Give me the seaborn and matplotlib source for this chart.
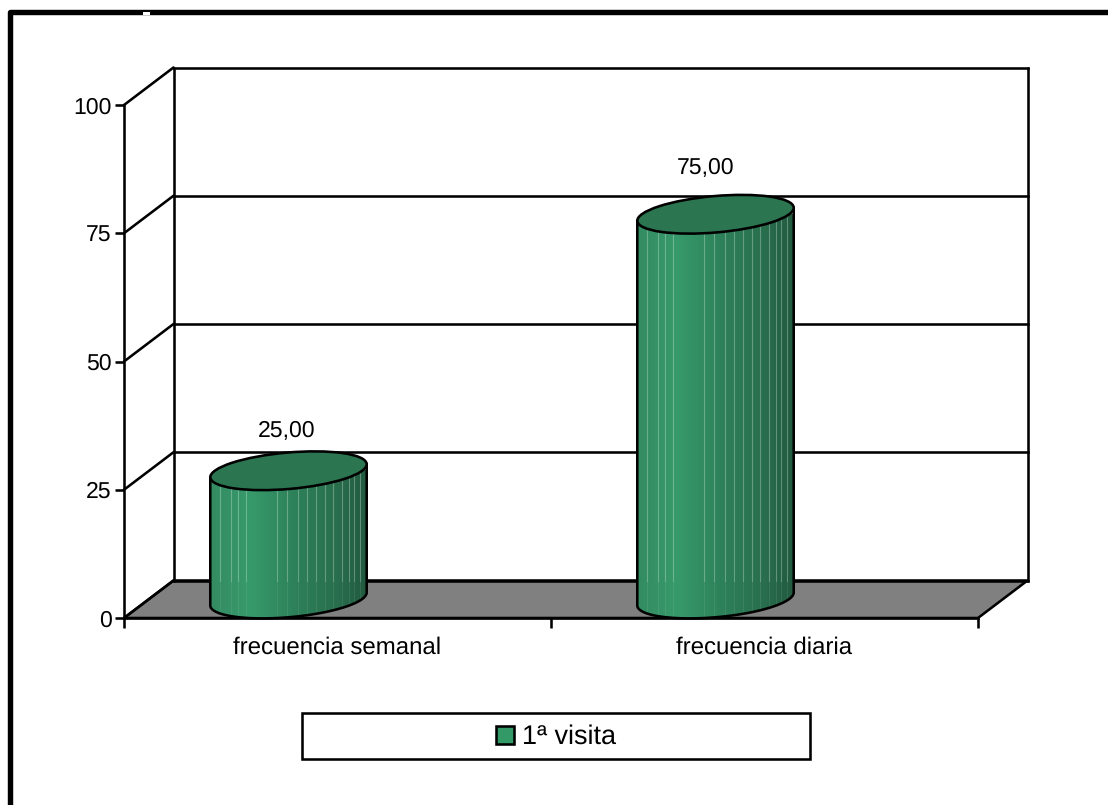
import numpy as np
import pandas as pd
import matplotlib
matplotlib.use("Agg")
import matplotlib.pyplot as plt
import seaborn as sns
from matplotlib.colors import LinearSegmentedColormap
from matplotlib.lines import Line2D
from matplotlib.patches import Ellipse, PathPatch, Polygon, Rectangle, Patch
from matplotlib.path import Path
from matplotlib.transforms import Affine2D, IdentityTransform

# Chart values
categories = ["frecuencia semanal", "frecuencia diaria"]
values = [25.0, 75.0]
value_labels = ["25,00", "75,00"]
y_ticks = [0, 25, 50, 75, 100]
series_name = "1ª visita"

# Styling
BAR_GREEN = "#339966"
CAP_GREEN = "#2b7550"
FLOOR_GREY = "#808080"
LINE_W = 1.85
FONT = "Liberation Sans"
W, H = 1108, 805
DEPTH = (49.5, 37.5)          # wall depth in pixels
BAR_SHIFT = (-49.0, 19.0)     # cylinders stand half way into the depth
CAP_A, CAP_B, CAP_ANGLE = 78.5, 18.2, 5.0
BAND_FRACTIONS = np.array([10, 21, 28, 36, 67, 77, 87, 96, 105, 114, 122, 131, 138, 143, 149]) / 156
LABEL_OFFSETS = [(-2, 40), (-10, 46)]

sns.set_style("white")
plt.rcParams["font.family"] = [FONT, "DejaVu Sans"]
plt.rcParams["text.hinting"] = "no_hinting"
plt.rcParams["text.hinting_factor"] = 1

fig = plt.figure(figsize=(W / 100, H / 100), dpi=100, facecolor="white")
ax = fig.add_axes([124 / W, 1 - 618 / H, (978 - 124) / W, (618 - 105) / H])
ax.patch.set_visible(False)

df = pd.DataFrame({"frecuencia": categories, "valor": values})
sns.barplot(data=df, x="frecuencia", y="valor", color=BAR_GREEN, saturation=1,
            width=0.365, ax=ax, zorder=3, linewidth=0)
ax.set_xlim(-0.5, len(categories) - 0.5)
ax.set_ylim(0, 100)
ax.set_xlabel("")
ax.set_ylabel("")

back = ax.transData + Affine2D().translate(*DEPTH)
shift = ax.transData + Affine2D().translate(*BAR_SHIFT)
x0, x1 = ax.get_xlim()

# Floor, back wall and side wall
p = ax.transData.transform([(x0, 0), (x1, 0)])
floor_pts = [p[0], p[1], p[1] + DEPTH, p[0] + DEPTH]
ax.add_patch(Polygon(floor_pts, closed=True, transform=IdentityTransform(),
                     facecolor=FLOOR_GREY, edgecolor="black", linewidth=LINE_W,
                     zorder=1, clip_on=False, joinstyle="miter"))
for v in y_ticks:
    ax.plot([x0, x1], [v, v], color="black", lw=LINE_W, transform=back,
            clip_on=False, zorder=1.5, solid_capstyle="projecting")
    a = ax.transData.transform((x0, v))
    ax.add_line(Line2D([a[0], a[0] + DEPTH[0]], [a[1], a[1] + DEPTH[1]], color="black",
                       lw=LINE_W, transform=IdentityTransform(), clip_on=False, zorder=1.5))
for xe in (x0, x1):
    ax.plot([xe, xe], [0, 100], color="black", lw=LINE_W, transform=back,
            clip_on=False, zorder=1.5)

# Front axes
sns.despine(ax=ax, top=True, right=True)
for side in ("left", "bottom"):
    ax.spines[side].set_linewidth(LINE_W)
    ax.spines[side].set_color("black")
    ax.spines[side].set_zorder(2)
ax.set_yticks(y_ticks)
ax.set_yticklabels([str(v) for v in y_ticks])
ax.set_xticks(range(len(categories)))
ax.set_xticklabels(categories)
ax.set_xticks(np.arange(x0, x1 + 0.5), minor=True)
ax.tick_params(axis="y", length=6.5, width=LINE_W, color="black", pad=2.5,
               labelsize=16.6, labelcolor="black", left=True)
ax.tick_params(axis="x", which="major", length=0, pad=13, labelsize=17.5, labelcolor="black")
ax.tick_params(axis="x", which="minor", length=7.5, width=LINE_W, color="black", bottom=True)

cmap = LinearSegmentedColormap.from_list(
    "cylinder", [(0, "#348c62"), (0.25, "#379a6b"), (0.55, "#2d8059"),
                 (0.8, "#296f4e"), (1, "#215a3f")])
gradient = np.linspace(0, 1, 256).reshape(1, -1)


def silhouette(center):
    """Lower arc of a tilted cap between its left and right extremes."""
    rad = np.deg2rad(CAP_ANGLE)
    t_r = np.arctan(-(CAP_B / CAP_A) * np.tan(rad))
    t = np.linspace(np.pi + t_r, 2 * np.pi + t_r, 80)
    xs = CAP_A * np.cos(t) * np.cos(rad) - CAP_B * np.sin(t) * np.sin(rad)
    ys = CAP_A * np.cos(t) * np.sin(rad) + CAP_B * np.sin(t) * np.cos(rad)
    return np.column_stack([xs + center[0], ys + center[1]])


# Turn each flat bar into a cylinder
for rect, value, text, off in zip(ax.patches, values, value_labels, LABEL_OFFSETS):
    left, width = rect.get_x(), rect.get_width()
    mid = left + width / 2
    base = shift.transform((mid, 0))
    top = shift.transform((mid, value))
    arc = silhouette(base)
    arc_top = silhouette(top)
    body_pts = np.vstack([arc, arc_top[-1], arc_top[0], arc[0]])
    body = PathPatch(Path(body_pts, closed=True), transform=IdentityTransform(),
                     facecolor="none", edgecolor="black", linewidth=LINE_W,
                     zorder=3.3, clip_on=False, joinstyle="round")
    ax.add_patch(body)

    rect.set_transform(shift)
    rect.set_clip_box(fig.bbox)
    rect.set_clip_path(body)

    im = ax.imshow(gradient, cmap=cmap, aspect="auto", zorder=3.1, transform=shift,
                   extent=(left, left + width, -6, value), interpolation="bilinear")
    im.set_clip_box(fig.bbox)
    im.set_clip_path(body)

    # Pale vertical bands, fainter below the back edge of the floor
    floor_y = ax.transData.transform((0, 0))[1] + DEPTH[1]
    px_left = arc[0, 0]
    px_w = arc[-1, 0] - arc[0, 0]
    for frac in BAND_FRACTIONS:
        xb = px_left + frac * px_w
        upper = Line2D([xb, xb], [floor_y, top[1]], color="#cfe6da", alpha=0.36, lw=0.8,
                       transform=IdentityTransform(), zorder=3.2)
        lower = Line2D([xb, xb], [base[1] - 25, floor_y], color="#cfe6da", alpha=0.1, lw=0.8,
                       transform=IdentityTransform(), zorder=3.2)
        for band in (upper, lower):
            ax.add_line(band)
            band.set_clip_box(fig.bbox)
            band.set_clip_path(body)

    ax.add_patch(Ellipse(top, 2 * CAP_A, 2 * CAP_B, angle=CAP_ANGLE,
                         transform=IdentityTransform(), facecolor=CAP_GREEN,
                         edgecolor="black", linewidth=LINE_W, zorder=3.4, clip_on=False))

    ax.annotate(text, xy=(mid, value), xycoords=shift, xytext=(off[0] * 0.72, off[1] * 0.72),
                textcoords="offset points", ha="center", va="center",
                fontsize=16.6, color="black", zorder=4)

# Legend box with the series entry
ax.add_patch(Rectangle((302 / W, 1 - 759 / H), 508 / W, 46 / H, transform=fig.transFigure,
                       facecolor="white", edgecolor="black", linewidth=LINE_W,
                       clip_on=False, zorder=5))
legend = ax.legend(handles=[Patch(facecolor=BAR_GREEN, edgecolor="black", linewidth=LINE_W,
                                  label=series_name)],
                   loc="center", bbox_to_anchor=(556 / W, 1 - 737 / H),
                   bbox_transform=fig.transFigure, frameon=False, fontsize=19.2,
                   handlelength=0.66, handleheight=0.66, handletextpad=0.28,
                   borderpad=0, labelcolor="black")
legend.set_zorder(6)

# Outer chart frame running off the top right
fig.add_artist(Rectangle((9.5 / W, -20 / H), (W + 40) / W, (H + 20 - 12) / H,
                         transform=fig.transFigure, facecolor="none", edgecolor="black",
                         linewidth=3.9, joinstyle="round"))
fig.add_artist(Rectangle((143 / W, 1 - 15 / H), 7 / W, 3 / H, transform=fig.transFigure,
                         facecolor="white", edgecolor="none"))

fig.savefig("out.png", dpi=100, facecolor="white")
